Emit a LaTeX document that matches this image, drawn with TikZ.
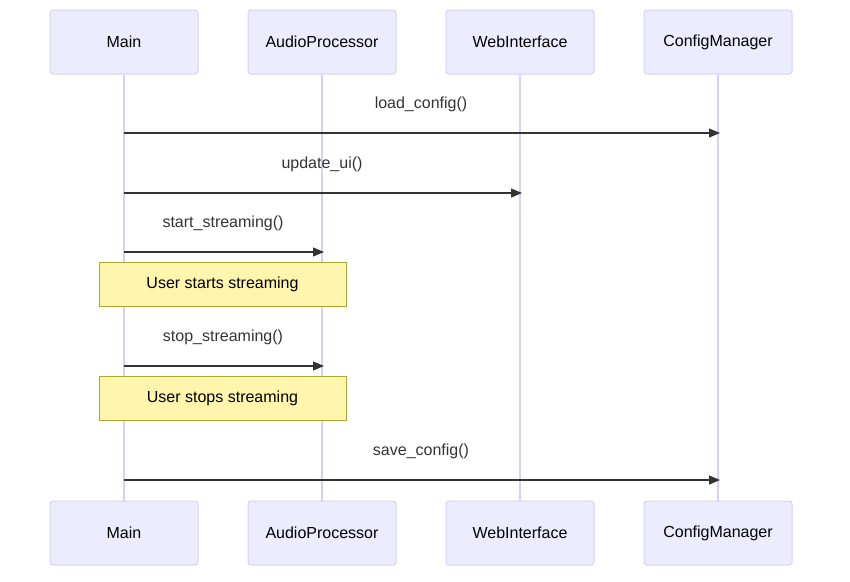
\documentclass[tikz,border=0pt]{standalone}
\usepackage{fontspec}
\setmainfont{Liberation Sans}
\usetikzlibrary{arrows.meta}
\definecolor{actfill}{HTML}{ECECFF}
\definecolor{actline}{RGB}{218,206,243}
\definecolor{notefill}{HTML}{FFF5AD}
\definecolor{noteline}{HTML}{AAAA33}
\definecolor{msg}{HTML}{333333}
\tikzset{
  actor/.style={draw=actline, fill=actfill, line width=1pt, rounded corners=3pt,
    minimum width=148pt, minimum height=64pt, inner sep=0pt, font=\fontsize{16}{19}\selectfont},
  lifeline/.style={draw=actline, line width=1.5pt},
  message/.style={draw=msg, line width=1.2pt, -{Triangle[length=11pt,width=9pt]}},
  msglabel/.style={text=msg, font=\fontsize{16}{19}\selectfont, inner sep=0pt},
  note/.style={draw=noteline, fill=notefill, line width=1pt, minimum width=247pt,
    minimum height=44pt, inner sep=0pt, font=\fontsize{16}{19}\selectfont}
}
\begin{document}
\begin{tikzpicture}[x=1pt,y=-1pt]
\useasboundingbox (0,0) rectangle (850,581);
\foreach \n/\x/\t in {m/124/Main, a/322/AudioProcessor, w/520/WebInterface, c/718/ConfigManager}{
  \node[actor] (\n top) at (\x,42) {\t};
  \node[actor] (\n bot) at (\x,533) {\t};
  \draw[lifeline] (\n top.south) -- (\n bot.north);
}
\coordinate (m1) at (124,133); \coordinate (c1) at (720,133);
\coordinate (m2) at (124,193); \coordinate (w2) at (522,193);
\coordinate (m3) at (124,252); \coordinate (a3) at (324,252);
\coordinate (m4) at (124,366); \coordinate (a4) at (324,366);
\coordinate (m5) at (124,480); \coordinate (c5) at (720,480);
\draw[message] (m1) -- (c1);
\node[msglabel] (l1) at (421,104) {load\_config()};
\draw[message] (m2) -- (w2);
\node[msglabel] (l2) at (322,164) {update\_ui()};
\draw[message] (m3) -- (a3);
\node[msglabel] (l3) at (223,223) {start\_streaming()};
\node[note] (n1) at (222.5,284.5) {User starts streaming};
\draw[message] (m4) -- (a4);
\node[msglabel] (l4) at (223,337) {stop\_streaming()};
\node[note] (n2) at (222.5,398.5) {User stops streaming};
\draw[message] (m5) -- (c5);
\node[msglabel] (l5) at (421,451) {save\_config()};
\end{tikzpicture}
\end{document}
